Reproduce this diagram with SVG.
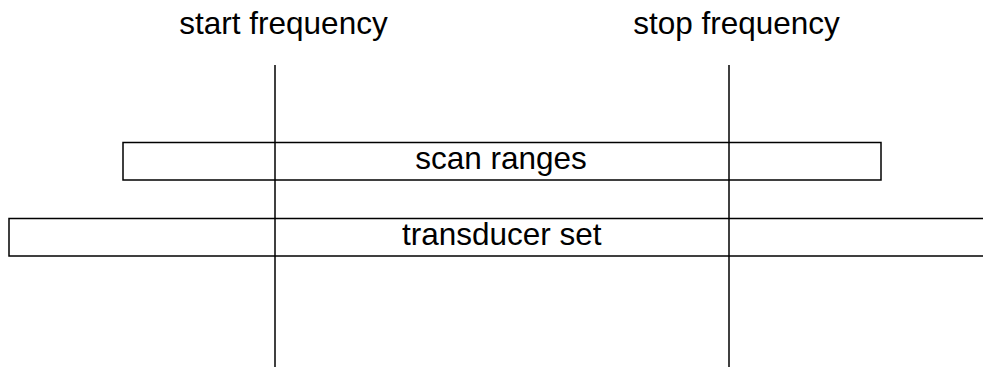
<svg xmlns="http://www.w3.org/2000/svg" width="983" height="367" viewBox="0 0 983 367">
<style>
.t{font-family:"Liberation Sans",Arial,sans-serif;font-size:31.5px;fill:#000;text-anchor:middle}
.b{fill:#fff;stroke:#000;stroke-width:1.5}
.l{stroke:#000;stroke-width:1.5;fill:none}
</style>
<rect width="983" height="367" fill="#fff"/>
<g id="scan-ranges">
<rect class="b" x="123" y="142.5" width="758" height="37.5"/>
</g>
<g id="transducer-set">
<rect class="b" x="9" y="218.5" width="990" height="37.5"/>
</g>
<g id="connectors">
<line class="l" x1="275" y1="65" x2="275" y2="367"/>
<line class="l" x1="729" y1="65" x2="729" y2="367"/>
</g>
<g id="labels">
<text class="t" x="283.5" y="34">start frequency</text>
<text class="t" x="736.5" y="34">stop frequency</text>
<text class="t" x="501" y="168.5">scan ranges</text>
<text class="t" x="501.7" y="244.5">transducer set</text>
</g>
</svg>
